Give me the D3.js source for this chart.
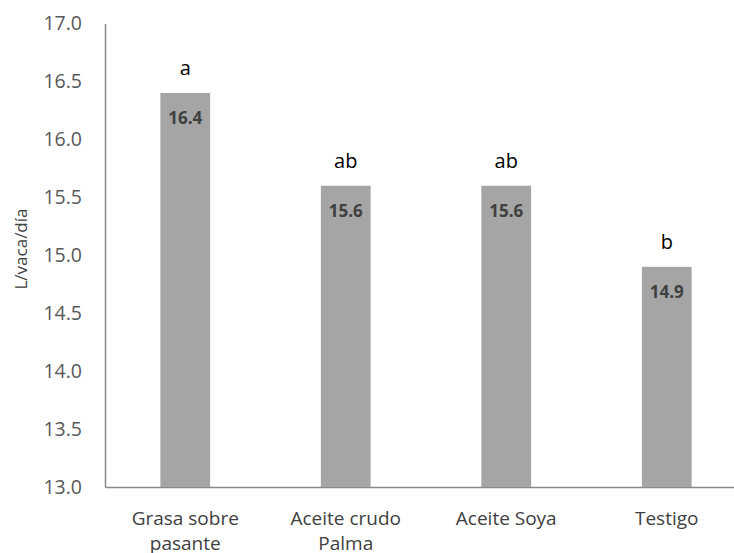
<!DOCTYPE html>
<html>
<head>
<meta charset="utf-8">
<script src="https://cdn.jsdelivr.net/npm/d3@7"></script>
<style>
  body { margin: 0; background: #fff; }
  svg { display: block; }
</style>
</head>
<body>
<svg id="chart" width="734" height="553"></svg>
<script>
// Milk yield per treatment (L/vaca/día) with significance letters
const categories = [["Grasa sobre", "pasante"], ["Aceite crudo", "Palma"], ["Aceite Soya"], ["Testigo"]];
const values = [16.4, 15.6, 15.6, 14.9];
const letters = ["a", "ab", "ab", "b"];
const yTicks = [13.0, 13.5, 14.0, 14.5, 15.0, 15.5, 16.0, 16.5, 17.0];

const svg = d3.select("#chart");
const font = "'Open Sans', sans-serif";
const axisColor = "#898989";

const x = d3.scaleBand()
  .domain(d3.range(categories.length))
  .range([105, 747])
  .paddingInner(0.69)
  .paddingOuter(0.345);

const y = d3.scaleLinear().domain([13, 17]).range([487, 23.5]);

// Y axis: line and labels, no tick marks
const yAxis = svg.append("g")
  .attr("transform", "translate(105,0)")
  .call(d3.axisLeft(y).tickValues(yTicks).tickFormat(d3.format(".1f")).tickSize(0).tickPadding(23));
yAxis.select(".domain").attr("stroke", axisColor).attr("stroke-width", 1.5);
yAxis.selectAll("text")
  .attr("fill", "#595959")
  .style("font-family", font)
  .style("font-size", "19.5px");

// X axis line
const xAxis = svg.append("g")
  .attr("transform", "translate(0,487)")
  .call(d3.axisBottom(x).tickSize(0).tickFormat(""));
xAxis.select(".domain").attr("stroke", axisColor).attr("stroke-width", 1.5);

// Category labels (wrapped onto two lines)
const catLabels = svg.append("g")
  .selectAll("text")
  .data(categories)
  .join("text")
  .attr("x", (d, i) => x(i) + x.bandwidth() / 2)
  .attr("y", 525)
  .attr("text-anchor", "middle")
  .attr("fill", "#404040")
  .style("font-family", font)
  .style("font-size", "19px");
catLabels.each(function(d, i) {
  const t = d3.select(this);
  d.forEach((line, j) => {
    t.append("tspan")
      .attr("x", x(i) + x.bandwidth() / 2)
      .attr("dy", j === 0 ? 0 : 25)
      .text(line);
  });
});

// Bars
svg.append("g")
  .selectAll("rect")
  .data(values)
  .join("rect")
  .attr("x", (d, i) => x(i))
  .attr("y", d => y(d))
  .attr("width", x.bandwidth())
  .attr("height", d => y(13) - y(d))
  .attr("fill", "#a5a5a5");

// Value labels inside bars
svg.append("g")
  .selectAll("text")
  .data(values)
  .join("text")
  .attr("x", (d, i) => x(i) + x.bandwidth() / 2)
  .attr("y", d => y(d) + 31)
  .attr("text-anchor", "middle")
  .attr("fill", "#404040")
  .style("font-family", font)
  .style("font-weight", "bold")
  .style("font-size", "17px")
  .text(d => d3.format(".1f")(d));

// Significance letters above bars
svg.append("g")
  .selectAll("text")
  .data(letters)
  .join("text")
  .attr("x", (d, i) => x(i) + x.bandwidth() / 2)
  .attr("y", (d, i) => y(values[i]) - 18)
  .attr("text-anchor", "middle")
  .attr("fill", "#000")
  .style("font-family", font)
  .style("font-size", "20px")
  .text(d => d);

// Y axis title
svg.append("text")
  .attr("transform", "translate(27,249) rotate(-90)")
  .attr("text-anchor", "middle")
  .attr("fill", "#404040")
  .style("font-family", font)
  .style("font-size", "17px")
  .text("L/vaca/día");
</script>
</body>
</html>
